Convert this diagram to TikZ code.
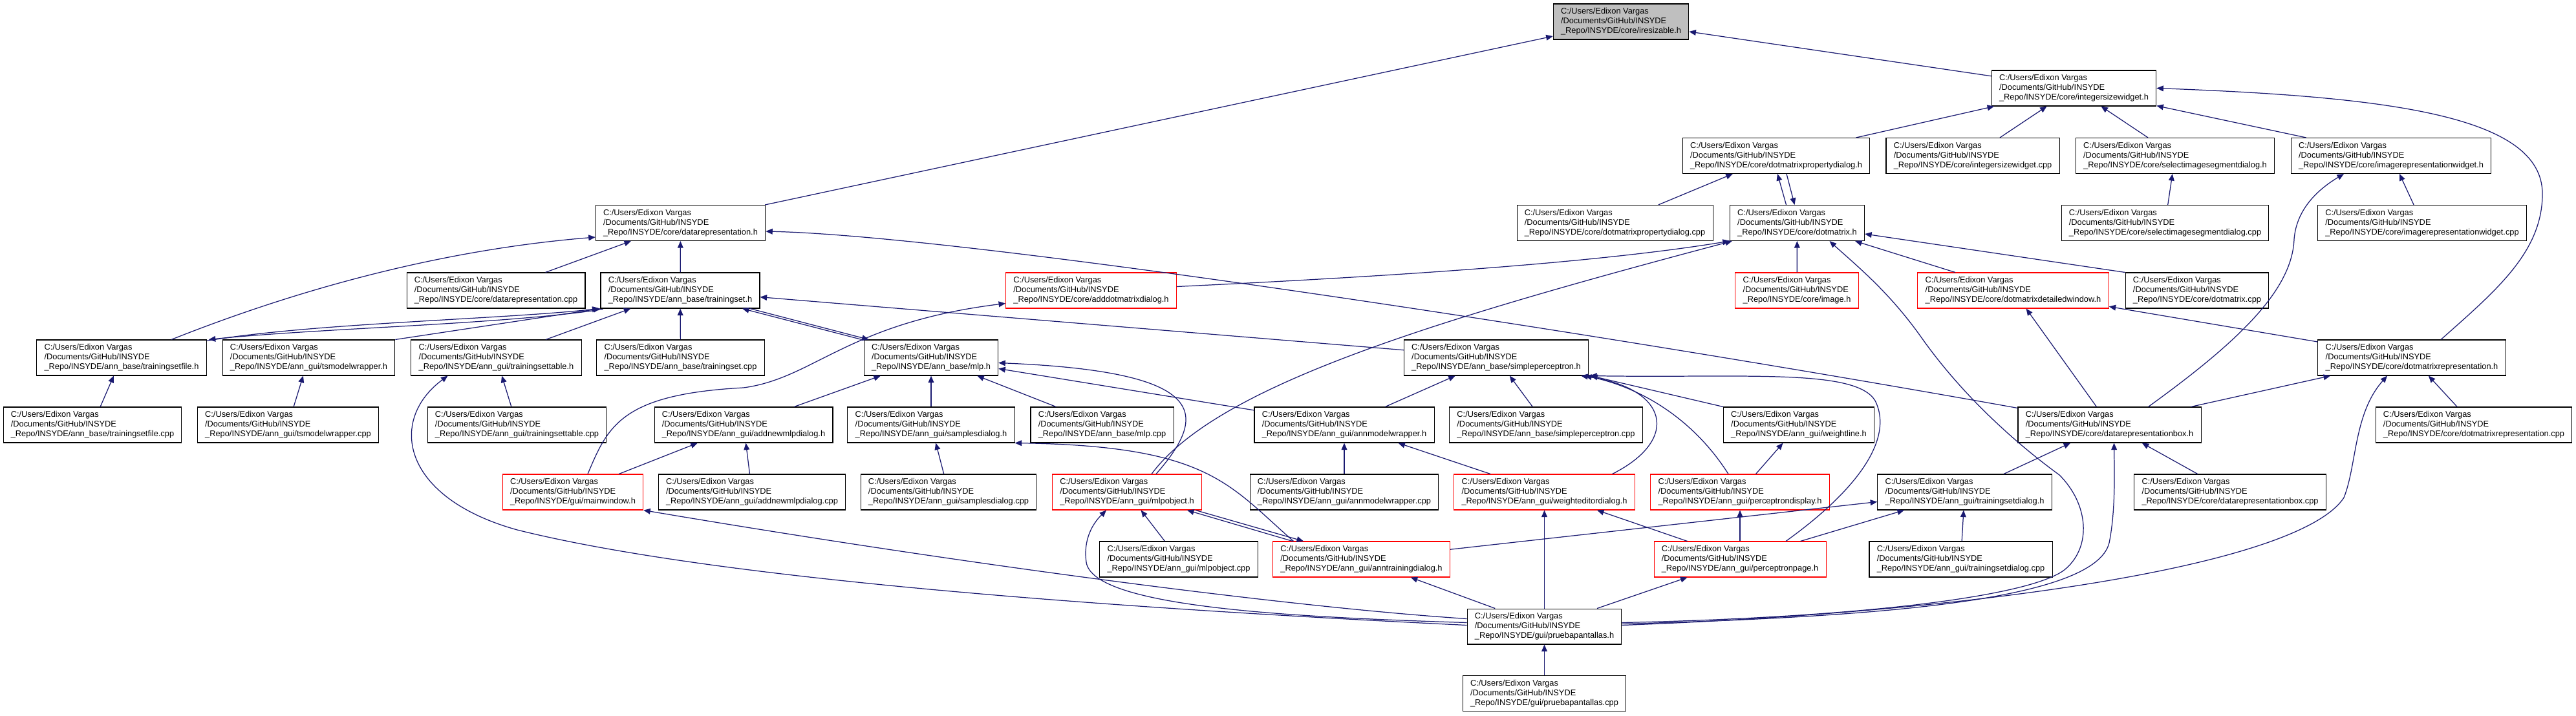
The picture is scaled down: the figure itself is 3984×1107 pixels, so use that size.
\documentclass[tikz,border=0pt]{standalone}
\usepackage{fontspec}
\setmainfont{Liberation Sans}
\usepackage{xcolor}
\usetikzlibrary{arrows.meta,calc}
\definecolor{edgeblue}{HTML}{191970}
\definecolor{rootgray}{HTML}{BFBFBF}
\definecolor{truncred}{HTML}{FF0000}
\newcommand\fsz{\fontsize{7.3}{8.5}\selectfont}
\newcommand\fpath[1]{C:/Users/Edixon Vargas\\/Documents/GitHub/INSYDE\\\_Repo/INSYDE/#1}

\begin{document}
\begin{tikzpicture}[x=0.02cm,y=-0.02cm,
    hfile/.style={draw=black,line width=0.6pt,fill=white,font=\fsz,align=left,
      minimum height=1.1cm,inner xsep=6.7pt,inner ysep=2pt},
    hmiss/.style={hfile,draw=truncred},
    hroot/.style={hfile,fill=rootgray},
    incl/.style={edgeblue,line width=0.7pt,-{Triangle[length=6pt,width=5pt]}}]
  \useasboundingbox (0,0) rectangle (3984,1107);

  % row 0 and 1
  \node[hroot] (iresizable) at (2507,33.5) {\fpath{core/iresizable.h}};
  \node[hfile] (isw) at (3207.5,136.5) {\fpath{core/integersizewidget.h}};

  % row 2
  \node[hfile] (dmpdh) at (2747,241) {\fpath{core/dotmatrixpropertydialog.h}};
  \node[hfile] (iswcpp) at (3051,241) {\fpath{core/integersizewidget.cpp}};
  \node[hfile] (sisdh) at (3364,241) {\fpath{core/selectimagesegmentdialog.h}};
  \node[hfile] (irwh) at (3698,241) {\fpath{core/imagerepresentationwidget.h}};

  % row 3
  \node[hfile] (drh) at (1052.5,345) {\fpath{core/datarepresentation.h}};
  \node[hfile] (dmpdcpp) at (2497.5,345) {\fpath{core/dotmatrixpropertydialog.cpp}};
  \node[hfile] (dmh) at (2779.5,345) {\fpath{core/dotmatrix.h}};
  \node[hfile] (sisdcpp) at (3348.5,345) {\fpath{core/selectimagesegmentdialog.cpp}};
  \node[hfile] (irwcpp) at (3746,345) {\fpath{core/imagerepresentationwidget.cpp}};

  % row 4
  \node[hfile] (drcpp) at (767,449.5) {\fpath{core/datarepresentation.cpp}};
  \node[hfile] (tsh) at (1052,449.5) {\fpath{ann\_base/trainingset.h}};
  \node[hmiss] (admdh) at (1687.5,449.5) {\fpath{core/adddotmatrixdialog.h}};
  \node[hmiss] (imgh) at (2779,449.5) {\fpath{core/image.h}};
  \node[hmiss] (dmdwh) at (3113.5,449.5) {\fpath{core/dotmatrixdetailedwindow.h}};
  \node[hfile] (dmcpp) at (3398,449.5) {\fpath{core/dotmatrix.cpp}};

  % row 5
  \node[hfile] (tsfh) at (188,553.5) {\fpath{ann\_base/trainingsetfile.h}};
  \node[hfile] (tsmwh) at (477.5,553.5) {\fpath{ann\_gui/tsmodelwrapper.h}};
  \node[hfile] (tsth) at (767.5,553.5) {\fpath{ann\_gui/trainingsettable.h}};
  \node[hfile] (tscpp) at (1052.5,553.5) {\fpath{ann\_base/trainingset.cpp}};
  \node[hfile] (mlph) at (1440,553.5) {\fpath{ann\_base/mlp.h}};
  \node[hfile] (sph) at (2314,553.5) {\fpath{ann\_base/simpleperceptron.h}};
  \node[hfile] (dmrh) at (3730,553.5) {\fpath{core/dotmatrixrepresentation.h}};

  % row 6
  \node[hfile] (tsfcpp) at (143,657.5) {\fpath{ann\_base/trainingsetfile.cpp}};
  \node[hfile] (tsmwcpp) at (445.5,657.5) {\fpath{ann\_gui/tsmodelwrapper.cpp}};
  \node[hfile] (tstcpp) at (799.5,657.5) {\fpath{ann\_gui/trainingsettable.cpp}};
  \node[hfile] (anmdh) at (1150,657.5) {\fpath{ann\_gui/addnewmlpdialog.h}};
  \node[hfile] (sdh) at (1440,657.5) {\fpath{ann\_gui/samplesdialog.h}};
  \node[hfile] (mlpcpp) at (1704.5,657.5) {\fpath{ann\_base/mlp.cpp}};
  \node[hfile] (amwh) at (2079,657.5) {\fpath{ann\_gui/annmodelwrapper.h}};
  \node[hfile] (spcpp) at (2391,657.5) {\fpath{ann\_base/simpleperceptron.cpp}};
  \node[hfile] (wlh) at (2782,657.5) {\fpath{ann\_gui/weightline.h}};
  \node[hfile] (drbh) at (3262.5,657.5) {\fpath{core/datarepresentationbox.h}};
  \node[hfile] (dmrcpp) at (3826,657.5) {\fpath{core/dotmatrixrepresentation.cpp}};

  % row 7
  \node[hmiss] (mwh) at (886,761.5) {\fpath{gui/mainwindow.h}};
  \node[hfile] (anmdcpp) at (1163,761.5) {\fpath{ann\_gui/addnewmlpdialog.cpp}};
  \node[hfile] (sdcpp) at (1467,761.5) {\fpath{ann\_gui/samplesdialog.cpp}};
  \node[hmiss] (mloh) at (1743,761.5) {\fpath{ann\_gui/mlpobject.h}};
  \node[hfile] (amwcpp) at (2079,761.5) {\fpath{ann\_gui/annmodelwrapper.cpp}};
  \node[hmiss] (wedh) at (2388.5,761.5) {\fpath{ann\_gui/weighteditordialog.h}};
  \node[hmiss] (pdh) at (2691,761.5) {\fpath{ann\_gui/perceptrondisplay.h}};
  \node[hfile] (tsdh) at (3038.5,761.5) {\fpath{ann\_gui/trainingsetdialog.h}};
  \node[hfile] (drbcpp) at (3449,761.5) {\fpath{core/datarepresentationbox.cpp}};

  % row 8
  \node[hfile] (mlocpp) at (1823,865.5) {\fpath{ann\_gui/mlpobject.cpp}};
  \node[hmiss] (atdh) at (2105.5,865.5) {\fpath{ann\_gui/anntrainingdialog.h}};
  \node[hmiss] (pph) at (2691,865.5) {\fpath{ann\_gui/perceptronpage.h}};
  \node[hfile] (tsdcpp) at (3032.5,865.5) {\fpath{ann\_gui/trainingsetdialog.cpp}};

  % row 9 and 10
  \node[hfile] (pbh) at (2388.5,969.5) {\fpath{gui/pruebapantallas.h}};
  \node[hfile] (pbcpp) at (2388.5,1073) {\fpath{gui/pruebapantallas.cpp}};

  % iresizable.h, integersizewidget.h
  \draw[incl] (drh) -- (iresizable);
  \draw[incl] (isw) -- (iresizable);
  \draw[incl] (dmpdh) -- (isw);
  \draw[incl] (iswcpp) -- (isw);
  \draw[incl] (sisdh) -- (isw);
  \draw[incl] (irwh) -- (isw);
  \draw[incl] ($(dmrh.north)+(45,0)$) .. controls (3860,450) and (3932,390) .. (3932,300)
    .. controls (3932,180) and (3700,150) .. (isw.east);

  % row 2 targets
  \draw[incl] (dmpdcpp) -- (dmpdh);
  \draw[incl] ($(dmh.north)+(-17,0)$) -- ($(dmpdh.south)+(2,0)$);
  \draw[incl] ($(dmpdh.south)+(16,0)$) -- ($(dmh.north)+(-4,0)$);
  \draw[incl] (sisdcpp) -- (sisdh);
  \draw[incl] (irwcpp) -- (irwh);
  \draw[incl] ($(drbh.north)+(60,0)$) .. controls (3460,530) and (3545,450) .. (3548,370)
    .. controls (3552,320) and (3590,290) .. ($(irwh.south)+(-73,0)$);

  % datarepresentation.h
  \draw[incl] (drcpp) -- (drh);
  \draw[incl] (tsh) -- (drh);
  \draw[incl] ($(tsfh.north)+(77,0)$) .. controls (480,440) and (700,385) .. ($(drh.south west)+(0,-6)$);
  \draw[incl] ($(drbh.north west)+(0,2)$) .. controls (2500,520) and (1500,365) .. ($(drh.east)+(0,13)$);

  % trainingset.h
  \draw[incl] (tscpp) -- (tsh);
  \draw[incl] ($(tsfh.north east)+(0,2)$) .. controls (480,500) and (780,494) .. ($(tsh.south west)+(-2,0)$);
  \draw[incl] ($(tsh.south west)+(4,1)$) .. controls (780,502) and (490,508) .. ($(tsfh.north east)+(3,0)$);
  \draw[incl] (tsmwh.north east) -- (tsh.south west);
  \draw[incl] (tsth) -- (tsh);
  \draw[incl] ($(mlph.north west)+(-3,0)$) -- ($(tsh.south)+(96,0)$);
  \draw[incl] ($(tsh.south)+(108,0)$) -- ($(mlph.north west)+(8,0)$);
  \draw[incl] (sph) -- (tsh);

  % dotmatrix.h
  \draw[incl] ($(admdh.east)+(0,-6)$) .. controls (2100,430) and (2450,410) .. (dmh.south west);
  \draw[incl] (imgh) -- (dmh);
  \draw[incl] (dmdwh) -- (dmh);
  \draw[incl] (dmcpp.north west) -- ($(dmh.east)+(0,17)$);
  \draw[incl] ($(mloh.north)+(38,0)$) .. controls (1880,600) and (2200,500) .. ($(dmh.south west)+(4,0)$);
  \draw[incl] ($(pbh.east)+(0,-6)$) .. controls (2900,955) and (3150,920) .. (3195,880)
    .. controls (3235,845) and (3230,780) .. (3185,735)
    .. controls (3130,695) and (3040,620) .. (2970,520)
    .. controls (2920,450) and (2870,410) .. ($(dmh.south)+(50,0)$);

  % row 5 targets
  \draw[incl] (tsfcpp) -- (tsfh);
  \draw[incl] (tsmwcpp) -- (tsmwh);
  \draw[incl] (tstcpp) -- (tsth);
  \draw[incl] ($(pbh.west)+(0,-2)$) .. controls (1700,940) and (1100,895) .. (800,820)
    .. controls (620,770) and (600,650) .. ($(tsth.south)+(-75,0)$);
  \draw[incl] ($(mwh.north)+(23,0)$) .. controls (940,660) and (960,610) .. (1150,600)
    .. controls (1260,585) and (1310,500) .. ($(admdh.west)+(0,20)$);
  \draw[incl] (mwh) -- (anmdh);

  % mlp.h
  \draw[incl] (anmdh) -- (mlph);
  \draw[incl] (sdh) -- (mlph);
  \draw[incl] (mlpcpp) -- (mlph);
  \draw[incl] (amwh) -- (mlph);
  \draw[incl] ($(mloh.north)+(45,0)$) .. controls (1870,640) and (1870,575) .. ($(mlph.east)+(0,8)$);
  \draw[incl] (anmdcpp) -- (anmdh);
  \draw[incl] (sdcpp) -- (sdh);
  \draw[incl] ($(atdh.north)+(-105,0)$) .. controls (1900,750) and (1870,690) .. (sdh.south east);

  % simpleperceptron.h
  \draw[incl] (amwh) -- (sph);
  \draw[incl] (spcpp) -- (sph);
  \draw[incl] (wlh.north west) -- ($(sph.south east)+(3,0)$);
  \draw[incl] ($(wedh.north)+(105,0)$) .. controls (2600,680) and (2580,600) .. ($(sph.south east)+(-12,0)$);
  \draw[incl] ($(pdh.north)+(-18,0)$) .. controls (2620,650) and (2540,600) .. ($(sph.south east)+(-6,0)$);
  \draw[incl] ($(pph.north)+(71,0)$) .. controls (2870,760) and (2930,680) .. (2900,620)
    .. controls (2870,570) and (2700,585) .. ($(sph.south east)+(2,0)$);
  \draw[incl] (amwcpp) -- (amwh);
  \draw[incl] (wedh) -- (amwh);
  \draw[incl] (pdh) -- (wlh);

  % dotmatrixrepresentation.h, datarepresentationbox.h
  \draw[incl] (dmrh) -- (dmdwh);
  \draw[incl] (drbh) -- (dmdwh);
  \draw[incl] (drbh) -- (dmrh);
  \draw[incl] (dmrcpp) -- (dmrh);
  \draw[incl] (tsdh) -- (drbh);
  \draw[incl] (drbcpp) -- (drbh);
  \draw[incl] ($(pbh.east)+(0,-4)$) .. controls (2900,955) and (3240,930) .. (3262,840)
    .. controls (3272,790) and (3270,730) .. ($(drbh.south)+(7,0)$);
  \draw[incl] ($(pbh.east)+(0,-2)$) .. controls (3100,945) and (3560,870) .. (3625,770)
    .. controls (3645,720) and (3640,640) .. ($(dmrh.south)+(-38,0)$);

  % mainwindow.h, mlpobject.h
  \draw[incl] ($(pbh.west)+(0,-12)$) .. controls (2000,940) and (1500,875) .. (mwh.south east);
  \draw[incl] ($(pbh.west)+(0,-6)$) .. controls (2000,955) and (1690,940) .. (1680,870)
    .. controls (1675,835) and (1690,810) .. ($(mloh.south)+(-32,0)$);
  \draw[incl] (mlocpp) -- (mloh);
  \draw[incl] ($(atdh.north west)+(31,0)$) -- ($(mloh.south east)+(-23,0)$);
  \draw[incl] ($(mloh.south east)+(-10,0)$) -- ($(atdh.north west)+(48,0)$);

  % trainingsetdialog.h and the rest
  \draw[incl] (atdh) -- (tsdh);
  \draw[incl] (pph) -- (tsdh);
  \draw[incl] (tsdcpp) -- (tsdh);
  \draw[incl] (pbh) -- (atdh);
  \draw[incl] (pbh) -- (wedh);
  \draw[incl] (pbh) -- (pph);
  \draw[incl] (pph) -- (wedh);
  \draw[incl] (pph) -- (pdh);
  \draw[incl] (pbcpp) -- (pbh);
\end{tikzpicture}
\end{document}
